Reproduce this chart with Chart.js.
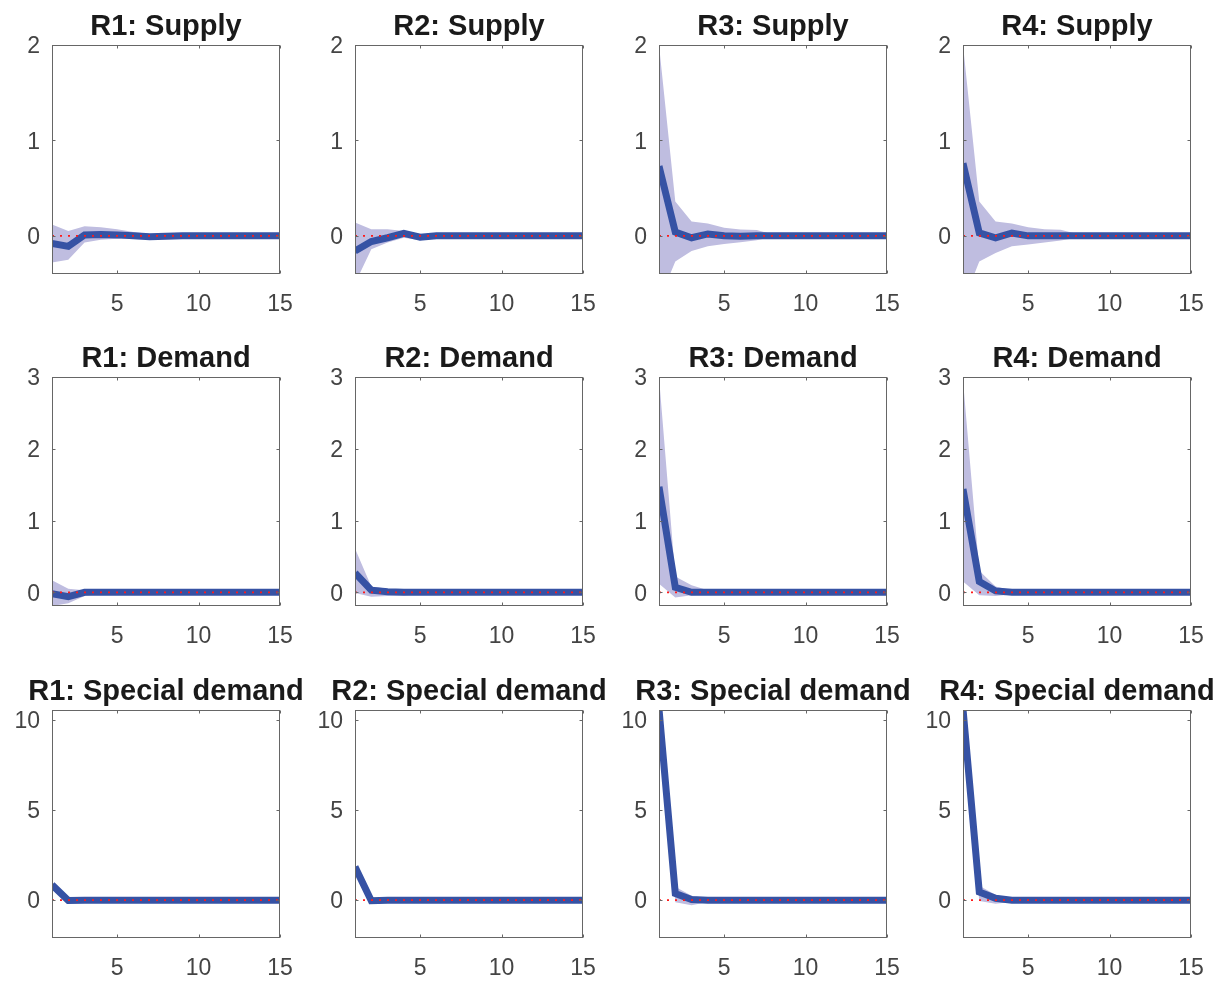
<!DOCTYPE html>
<html>
<head>
<meta charset="utf-8">
<title>Impulse responses by region</title>
<script src="https://cdn.jsdelivr.net/npm/chart.js@4/dist/chart.umd.min.js"></script>
<style>
  html, body { margin: 0; padding: 0; background: #ffffff; }
  #grid { position: relative; width: 1226px; height: 983px; overflow: hidden; }
  #grid canvas { position: absolute; }
</style>
</head>
<body>
<div id="grid"></div>
<script>
'use strict'

// ---- data ----
const horizon = [1, 2, 3, 4, 5, 6, 7, 8, 9, 10, 11, 12, 13, 14, 15]
const xTicks = [5, 10, 15]
const regions = ['R1', 'R2', 'R3', 'R4']
const shocks = ['Supply', 'Demand', 'Special demand']

const yTicksSupply = [0, 1, 2]
const yTicksDemand = [0, 1, 2, 3]
const yTicksSpecial = [0, 5, 10]
const yLimSupply = [-0.4, 2]
const yLimDemand = [-0.19, 3]
const yLimSpecial = [-2.1, 10.55]

const zeroLine = [0, 0, 0, 0, 0, 0, 0, 0, 0, 0, 0, 0, 0, 0, 0]

// supply shock
const r1SupplyIrf = [-0.08, -0.11, 0.01, 0.015, 0.01, 0, -0.01, -0.005, 0, 0, 0, 0, 0, 0, 0]
const r1SupplyLo = [-0.28, -0.25, -0.07, -0.04, -0.03, -0.03, -0.03, -0.02, -0.015, -0.01, -0.01, -0.005, -0.005, -0.005, -0.005]
const r1SupplyHi = [0.12, 0.05, 0.1, 0.09, 0.07, 0.04, 0.02, 0.015, 0.01, 0.01, 0.005, 0.005, 0.005, 0.005, 0.005]

const r2SupplyIrf = [-0.16, -0.06, -0.02, 0.025, -0.015, 0, 0, 0, 0, 0, 0, 0, 0, 0, 0]
const r2SupplyLo = [-0.5, -0.14, -0.07, -0.02, -0.045, -0.02, -0.01, -0.01, -0.005, -0.005, -0.005, -0.005, -0.005, -0.005, -0.005]
const r2SupplyHi = [0.14, 0.07, 0.07, 0.05, 0.02, 0.02, 0.01, 0.01, 0.005, 0.005, 0.005, 0.005, 0.005, 0.005, 0.005]

const r3SupplyIrf = [0.73, 0.04, -0.02, 0.02, 0, -0.005, 0, 0, 0, 0, 0, 0, 0, 0, 0]
const r3SupplyLo = [-0.68, -0.27, -0.16, -0.11, -0.085, -0.066, -0.045, -0.01, -0.005, -0.005, -0.005, -0.005, -0.005, -0.005, -0.005]
const r3SupplyHi = [2.0, 0.36, 0.15, 0.13, 0.085, 0.066, 0.06, 0.015, 0.01, 0.005, 0.005, 0.005, 0.005, 0.005, 0.005]

const r4SupplyIrf = [0.76, 0.03, -0.02, 0.03, 0, 0, 0, 0, 0, 0, 0, 0, 0, 0, 0]
const r4SupplyLo = [-0.7, -0.27, -0.18, -0.11, -0.09, -0.07, -0.05, -0.02, -0.01, -0.005, -0.005, -0.005, -0.005, -0.005, -0.005]
const r4SupplyHi = [2.0, 0.36, 0.15, 0.13, 0.09, 0.07, 0.065, 0.02, 0.01, 0.005, 0.005, 0.005, 0.005, 0.005, 0.005]

// demand shock
const r1DemandIrf = [-0.02, -0.06, 0, 0, 0, 0, 0, 0, 0, 0, 0, 0, 0, 0, 0]
const r1DemandLo = [-0.19, -0.15, -0.05, -0.02, -0.02, -0.015, -0.01, -0.01, -0.01, -0.01, -0.01, -0.01, -0.01, -0.01, -0.01]
const r1DemandHi = [0.17, 0.05, 0.03, 0.02, 0.02, 0.015, 0.01, 0.01, 0.01, 0.01, 0.01, 0.01, 0.01, 0.01, 0.01]

const r2DemandIrf = [0.27, 0.03, 0.01, 0, 0, 0, 0, 0, 0, 0, 0, 0, 0, 0, 0]
const r2DemandLo = [-0.01, -0.06, -0.05, -0.045, -0.02, -0.015, -0.01, -0.01, -0.01, -0.01, -0.01, -0.01, -0.01, -0.01, -0.01]
const r2DemandHi = [0.61, 0.08, 0.05, 0.03, 0.02, 0.015, 0.01, 0.01, 0.01, 0.01, 0.01, 0.01, 0.01, 0.01, 0.01]

const r3DemandIrf = [1.47, 0.07, 0, 0, 0, 0, 0, 0, 0, 0, 0, 0, 0, 0, 0]
const r3DemandLo = [0.12, -0.07, -0.04, -0.03, -0.01, -0.01, -0.01, -0.01, -0.01, -0.01, -0.01, -0.01, -0.01, -0.01, -0.01]
const r3DemandHi = [3.0, 0.22, 0.1, 0.03, 0.02, 0.01, 0.01, 0.01, 0.01, 0.01, 0.01, 0.01, 0.01, 0.01, 0.01]

const r4DemandIrf = [1.44, 0.15, 0.02, 0, 0, 0, 0, 0, 0, 0, 0, 0, 0, 0, 0]
const r4DemandLo = [0.15, -0.04, -0.05, -0.03, -0.01, -0.01, -0.01, -0.01, -0.01, -0.01, -0.01, -0.01, -0.01, -0.01, -0.01]
const r4DemandHi = [2.95, 0.3, 0.08, 0.03, 0.02, 0.01, 0.01, 0.01, 0.01, 0.01, 0.01, 0.01, 0.01, 0.01, 0.01]

// special demand shock
const r1SpecialIrf = [0.85, -0.02, 0, 0, 0, 0, 0, 0, 0, 0, 0, 0, 0, 0, 0]
const r1SpecialLo = [0.75, -0.08, -0.03, -0.02, -0.02, -0.02, -0.02, -0.02, -0.02, -0.02, -0.02, -0.02, -0.02, -0.02, -0.02]
const r1SpecialHi = [0.95, 0.05, 0.03, 0.02, 0.02, 0.02, 0.02, 0.02, 0.02, 0.02, 0.02, 0.02, 0.02, 0.02, 0.02]

const r2SpecialIrf = [1.85, -0.03, 0, 0, 0, 0, 0, 0, 0, 0, 0, 0, 0, 0, 0]
const r2SpecialLo = [1.7, -0.1, -0.03, -0.02, -0.02, -0.02, -0.02, -0.02, -0.02, -0.02, -0.02, -0.02, -0.02, -0.02, -0.02]
const r2SpecialHi = [2.0, 0.05, 0.03, 0.02, 0.02, 0.02, 0.02, 0.02, 0.02, 0.02, 0.02, 0.02, 0.02, 0.02, 0.02]

const r3SpecialIrf = [10.6, 0.37, 0.04, 0, 0, 0, 0, 0, 0, 0, 0, 0, 0, 0, 0]
const r3SpecialLo = [10.4, -0.12, -0.28, -0.1, -0.05, -0.03, -0.02, -0.02, -0.02, -0.02, -0.02, -0.02, -0.02, -0.02, -0.02]
const r3SpecialHi = [10.8, 0.75, 0.25, 0.06, 0.03, 0.02, 0.02, 0.02, 0.02, 0.02, 0.02, 0.02, 0.02, 0.02, 0.02]

const r4SpecialIrf = [10.6, 0.45, 0.1, 0, 0, 0, 0, 0, 0, 0, 0, 0, 0, 0, 0]
const r4SpecialLo = [10.4, -0.05, -0.2, -0.1, -0.05, -0.03, -0.02, -0.02, -0.02, -0.02, -0.02, -0.02, -0.02, -0.02, -0.02]
const r4SpecialHi = [10.8, 0.8, 0.3, 0.06, 0.03, 0.02, 0.02, 0.02, 0.02, 0.02, 0.02, 0.02, 0.02, 0.02, 0.02]

// ---- look ----
const FONT = "'Liberation Sans', Arial, Helvetica, sans-serif"
const lineBlue = 'rgb(54, 82, 164)'
const bandColor = 'rgb(191, 189, 224)'
const axisColor = '#666666'
const tickTextColor = '#444444'

const colLeft = [0, 303, 607, 911]
const rowTop = [0, 332, 665]
const sideW = 52   // room for y labels, same on the right so the title centres on the plot
const plotW = 228
const plotH = [229, 229, 228]

const rows = [
    { shock: shocks[0], yTicks: yTicksSupply, yLim: yLimSupply,
      series: [[r1SupplyIrf, r1SupplyLo, r1SupplyHi], [r2SupplyIrf, r2SupplyLo, r2SupplyHi],
               [r3SupplyIrf, r3SupplyLo, r3SupplyHi], [r4SupplyIrf, r4SupplyLo, r4SupplyHi]] },
    { shock: shocks[1], yTicks: yTicksDemand, yLim: yLimDemand,
      series: [[r1DemandIrf, r1DemandLo, r1DemandHi], [r2DemandIrf, r2DemandLo, r2DemandHi],
               [r3DemandIrf, r3DemandLo, r3DemandHi], [r4DemandIrf, r4DemandLo, r4DemandHi]] },
    { shock: shocks[2], yTicks: yTicksSpecial, yLim: yLimSpecial,
      series: [[r1SpecialIrf, r1SpecialLo, r1SpecialHi], [r2SpecialIrf, r2SpecialLo, r2SpecialHi],
               [r3SpecialIrf, r3SpecialLo, r3SpecialHi], [r4SpecialIrf, r4SpecialLo, r4SpecialHi]] }
]

const toPoints = values => values.map((v, i) => ({ x: horizon[i], y: v }))

// matlab style box with inward ticks on all four sides
const boxPlugin = {
    id: 'matlabBox',
    afterDatasetsDraw(chart) {
        const { ctx, chartArea: a, scales: { x, y } } = chart
        const L = Math.round(a.left) + 0.5
        const R = Math.round(a.right) - 0.5
        const T = Math.round(a.top) + 0.5
        const B = Math.round(a.bottom) - 0.5
        const len = 3
        ctx.save()
        ctx.strokeStyle = axisColor
        ctx.lineWidth = 1
        ctx.strokeRect(L, T, R - L, B - T)
        ctx.beginPath()
        x.ticks.forEach(t => {
            const px = Math.round(x.getPixelForValue(t.value)) + 0.5
            ctx.moveTo(px, B); ctx.lineTo(px, B - len)
            ctx.moveTo(px, T); ctx.lineTo(px, T + len)
        })
        y.ticks.forEach(t => {
            const py = Math.round(y.getPixelForValue(t.value)) + 0.5
            ctx.moveTo(L, py); ctx.lineTo(L + len, py)
            ctx.moveTo(R, py); ctx.lineTo(R - len, py)
        })
        ctx.stroke()
        ctx.restore()
    }
}

const grid = document.getElementById('grid')

rows.forEach((row, r) => {
    row.series.forEach(([irf, lo, hi], c) => {
        const canvas = document.createElement('canvas')
        const w = sideW + plotW + sideW
        const h = 45 + plotH[r] + 48
        canvas.width = w
        canvas.height = h
        canvas.style.width = w + 'px'
        canvas.style.height = h + 'px'
        canvas.style.left = colLeft[c] + 'px'
        canvas.style.top = rowTop[r] + 'px'
        grid.appendChild(canvas)

        new Chart(canvas.getContext('2d'), {
            type: 'line',
            data: {
                datasets: [
                    { data: toPoints(zeroLine), borderColor: '#ff1a1a', borderWidth: 1.8,
                      borderDash: [2, 6], pointRadius: 0, fill: false },
                    { data: toPoints(irf), borderColor: lineBlue, borderWidth: 7,
                      borderCapStyle: 'butt', borderJoinStyle: 'miter', pointRadius: 0, fill: false },
                    { data: toPoints(lo), borderWidth: 0, borderColor: 'rgba(0,0,0,0)',
                      pointRadius: 0, fill: false },
                    { data: toPoints(hi), borderWidth: 0, borderColor: 'rgba(0,0,0,0)',
                      backgroundColor: bandColor, pointRadius: 0, fill: '-1' }
                ]
            },
            options: {
                responsive: false,
                animation: false,
                devicePixelRatio: 1,
                events: [],
                layout: { padding: 0 },
                elements: { line: { tension: 0 } },
                scales: {
                    x: {
                        type: 'linear', min: 1, max: 15,
                        grid: { display: false, drawTicks: false },
                        border: { display: false },
                        afterBuildTicks: s => { s.ticks = xTicks.map(v => ({ value: v })) },
                        afterFit: s => { s.height = 48 },
                        ticks: { autoSkip: false, maxRotation: 0, padding: 17, color: tickTextColor,
                                 font: { family: FONT, size: 23 } }
                    },
                    y: {
                        type: 'linear', min: row.yLim[0], max: row.yLim[1],
                        grid: { display: false, drawTicks: false },
                        border: { display: false },
                        afterBuildTicks: s => { s.ticks = row.yTicks.map(v => ({ value: v })) },
                        afterFit: s => { s.width = sideW },
                        ticks: { padding: 12, labelOffset: 2, color: tickTextColor,
                                 font: { family: FONT, size: 23 } }
                    },
                    // empty right-hand axis, only reserves space so the plot sits centred under the title
                    yRight: {
                        type: 'linear', position: 'right',
                        grid: { display: false, drawTicks: false },
                        border: { display: false },
                        ticks: { display: false },
                        afterFit: s => { s.width = sideW }
                    }
                },
                plugins: {
                    legend: { display: false },
                    tooltip: { enabled: false },
                    title: {
                        display: true,
                        text: regions[c] + ': ' + row.shock,
                        fullSize: true,
                        color: '#1a1a1a',
                        font: { family: FONT, size: 29, weight: 'bold', lineHeight: 1 },
                        padding: { top: 12, bottom: 4 }
                    }
                }
            },
            plugins: [boxPlugin]
        })
    })
})
</script>
</body>
</html>
